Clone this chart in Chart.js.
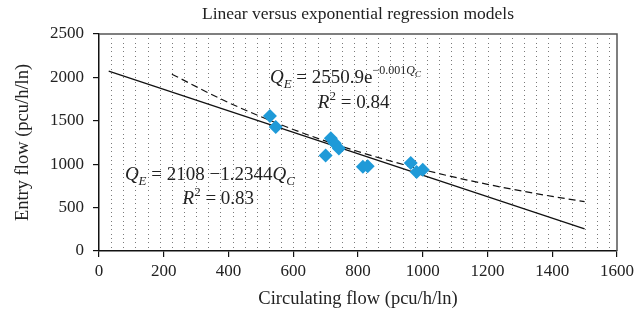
<!DOCTYPE html>
<html>
<head>
<meta charset="utf-8">
<script src="https://cdn.jsdelivr.net/npm/chart.js@4/dist/chart.umd.min.js"></script>
<style>
    html, body { margin: 0; padding: 0; background: #fff; }
    #wrap { width: 638px; height: 319px; }
</style>
</head>
<body>
<div id="wrap"><canvas id="chart"></canvas></div>
<script>
const TITLE = 'Linear versus exponential regression models';
const X_TITLE = 'Circulating flow (pcu/h/ln)';
const Y_TITLE = 'Entry flow (pcu/h/ln)';

// observed points
const circulating = [528, 546, 700, 716, 728, 741, 815, 830, 963, 981, 1000];
const entry = [1555, 1430, 1100, 1300, 1240, 1180, 970, 975, 1015, 910, 935];

// fitted lines
const linearX = [30, 1500];
const linearY = [2071, 256];
const expX = [225, 400, 600, 800, 1000, 1200, 1400, 1500];
const expY = [2037, 1710, 1400, 1146, 938, 768, 629, 569];

const xTicks = [0, 200, 400, 600, 800, 1000, 1200, 1400, 1600];
const yTicks = [0, 500, 1000, 1500, 2000, 2500];

const SERIF = '"Liberation Serif", "DejaVu Serif", serif';

function toPoints(xs, ys) {
    const pts = [];
    for (let i = 0; i < xs.length; i++) {
        pts.push({ x: xs[i], y: ys[i] });
    }
    return pts;
}

// draws a row of text pieces, some italic / raised / lowered
function drawRuns(ctx, x, y, runs) {
    let cx = x;
    for (let i = 0; i < runs.length; i++) {
        const r = runs[i];
        ctx.font = (r.it ? 'italic ' : '') + r.size + 'px ' + SERIF;
        ctx.fillText(r.t, cx, y + (r.dy || 0));
        cx += ctx.measureText(r.t).width + (r.gap || 0);
    }
}

const extras = {
    id: 'extras',
    beforeDatasetsDraw(chart) {
        const ctx = chart.ctx;
        const xs = chart.scales.x;
        const ys = chart.scales.y;
        const a = chart.chartArea;
        ctx.save();
        ctx.fillStyle = '#7a7a7a';
        // dotted grid: columns of dots
        for (let v = 37.5; v < 1600; v += 37.5) {
            const px = Math.round(xs.getPixelForValue(v));
            for (let d = 50; d < 2500; d += 50) {
                ctx.fillRect(px, Math.round(ys.getPixelForValue(d)), 1, 1);
            }
        }
        // frame top / right
        ctx.strokeStyle = '#555';
        ctx.lineWidth = 1.5;
        ctx.beginPath();
        ctx.moveTo(a.left, a.top);
        ctx.lineTo(a.right, a.top);
        ctx.lineTo(a.right, a.bottom);
        ctx.stroke();
        ctx.restore();
    },
    afterDraw(chart) {
        const ctx = chart.ctx;
        const xs = chart.scales.x;
        const ys = chart.scales.y;
        ctx.save();
        ctx.fillStyle = '#222';
        ctx.textBaseline = 'alphabetic';
        ctx.font = '17.5px ' + SERIF;
        ctx.textAlign = 'center';
        ctx.fillText(TITLE, (chart.chartArea.left + chart.chartArea.right) / 2, 19);
        ctx.textAlign = 'left';

        drawRuns(ctx, xs.getPixelForValue(528), ys.getPixelForValue(1935), [
            { t: 'Q', it: true, size: 19 },
            { t: 'E', it: true, size: 13, dy: 5 },
            { t: ' = 2550.9e', size: 19 },
            { t: '\u22120.001', size: 12, dy: -9 },
            { t: 'Q', it: true, size: 12, dy: -9 },
            { t: 'C', it: true, size: 9, dy: -6 }
        ]);
        drawRuns(ctx, xs.getPixelForValue(676), ys.getPixelForValue(1645), [
            { t: 'R', it: true, size: 19 },
            { t: '2', size: 13, dy: -8 },
            { t: ' = 0.84', size: 19 }
        ]);
        drawRuns(ctx, xs.getPixelForValue(80), ys.getPixelForValue(820), [
            { t: 'Q', it: true, size: 19 },
            { t: 'E', it: true, size: 13, dy: 5 },
            { t: ' = 2108 \u22121.2344', size: 19 },
            { t: 'Q', it: true, size: 19 },
            { t: 'C', it: true, size: 13, dy: 5 }
        ]);
        drawRuns(ctx, xs.getPixelForValue(258), ys.getPixelForValue(545), [
            { t: 'R', it: true, size: 19 },
            { t: '2', size: 13, dy: -8 },
            { t: ' = 0.83', size: 19 }
        ]);
        ctx.restore();
    }
};

new Chart(document.getElementById('chart'), {
    type: 'scatter',
    data: {
        datasets: [
            {
                label: 'Observed',
                data: toPoints(circulating, entry),
                pointStyle: 'rectRot',
                pointRadius: 7,
                backgroundColor: '#1f9ad8',
                borderColor: '#1f9ad8',
                borderWidth: 0,
                order: 0
            },
            {
                label: 'Linear',
                type: 'line',
                data: toPoints(linearX, linearY),
                borderColor: '#111',
                borderWidth: 1.3,
                pointRadius: 0,
                fill: false,
                order: 1
            },
            {
                label: 'Exponential',
                type: 'line',
                data: toPoints(expX, expY),
                borderColor: '#111',
                borderWidth: 1.2,
                borderDash: [7, 4],
                cubicInterpolationMode: 'monotone',
                pointRadius: 0,
                fill: false,
                order: 2
            }
        ]
    },
    options: {
        responsive: true,
        maintainAspectRatio: false,
        animation: false,
        layout: { padding: { top: 34, right: 20, left: 0, bottom: 0 } },
        plugins: {
            legend: { display: false },
            tooltip: { enabled: false }
        },
        scales: {
            x: {
                type: 'linear',
                min: 0,
                max: 1600,
                afterBuildTicks: function(scale) {
                    scale.ticks = xTicks.map(function(v) { return { value: v }; });
                },
                afterFit: function(scale) { scale.height = 68; },
                border: { color: '#111', width: 1.5 },
                grid: { drawOnChartArea: false, color: '#111', tickLength: 6, lineWidth: 1.2 },
                ticks: {
                    color: '#222', font: { family: SERIF, size: 17 }, padding: 4, maxRotation: 0,
                    callback: function(v) { return String(v); }
                },
                title: { display: true, text: X_TITLE, color: '#222', font: { family: SERIF, size: 18.5 }, padding: { top: 2, bottom: 9 } }
            },
            y: {
                type: 'linear',
                min: 0,
                max: 2500,
                afterBuildTicks: function(scale) {
                    scale.ticks = yTicks.map(function(v) { return { value: v }; });
                },
                afterFit: function(scale) { scale.width = 99; },
                border: { color: '#111', width: 1.5 },
                grid: { drawOnChartArea: false, color: '#111', tickLength: 6, lineWidth: 1.2 },
                ticks: {
                    color: '#222', font: { family: SERIF, size: 17 }, padding: 9,
                    callback: function(v) { return String(v); }
                },
                title: { display: true, text: Y_TITLE, color: '#222', font: { family: SERIF, size: 18.5 }, padding: { top: 12, bottom: 4 } }
            }
        }
    },
    plugins: [extras]
});
</script>
</body>
</html>
